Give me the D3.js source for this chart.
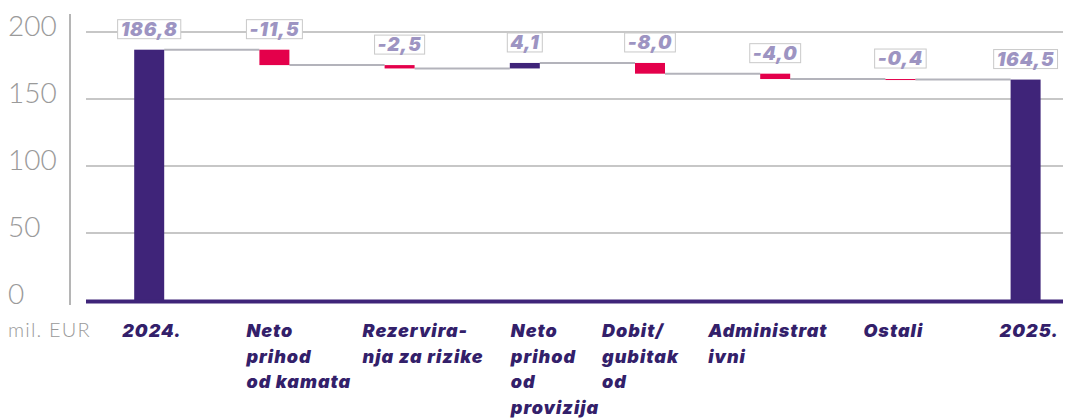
<!DOCTYPE html>
<html>
<head>
<meta charset="utf-8">
<script src="https://cdn.jsdelivr.net/npm/d3@7"></script>
<style>
  html, body { margin: 0; padding: 0; background: #fff; }
  svg { display: block; }
</style>
</head>
<body>
<svg id="chart" width="1065" height="418"></svg>
<script>
const categories = ['2024.', 'Neto prihod od kamata', 'Rezervira-nja za rizike', 'Neto prihod od provizija',
  'Dobit/gubitak od', 'Administrativni', 'Ostali', '2025.']
const labelLines = [
  ['2024.'],
  ['Neto', 'prihod', 'od kamata'],
  ['Rezervira-', 'nja za rizike'],
  ['Neto', 'prihod', 'od', 'provizija'],
  ['Dobit/', 'gubitak', 'od'],
  ['Administrat', 'ivni'],
  ['Ostali'],
  ['2025.']
]
const values = [186.8, -11.5, -2.5, 4.1, -8.0, -4.0, -0.4, 164.5]
const isTotal = [true, false, false, false, false, false, false, true]
const yTicks = [0, 50, 100, 150, 200]
const unitLabel = 'mil. EUR'

// label offsets from bar centre (layout only)
const labelDx = [-27, -28, -37, -14, -48, -67, -37, -26]

const purple = '#3f2479'
const red = '#e4004b'
const grid = '#b5b5b5'
const boldFont = 'Inter, "DejaVu Sans", sans-serif'

const svg = d3.select('#chart')

const x = d3.scaleBand()
  .domain(categories)
  .range([86.6, 1088.2])
  .paddingInner(0.7604)
  .paddingOuter(0.3802)

const y = d3.scaleLinear().domain([0, 200]).range([300, 32])

// waterfall steps
let running = 0
const steps = categories.map((c, i) => {
  let start, end
  if (isTotal[i]) {
    start = 0
    end = values[i]
  } else {
    start = running
    end = running + values[i]
  }
  running = end
  return { cat: c, value: values[i], start, end, total: isTotal[i], i }
})

// grid
svg.append('g')
  .selectAll('line')
  .data(yTicks.filter(d => d > 0))
  .join('line')
  .attr('x1', 86).attr('x2', 1063)
  .attr('y1', d => y(d)).attr('y2', d => y(d))
  .attr('stroke', grid)
  .attr('stroke-width', 1.5)

// y axis line
svg.append('line')
  .attr('x1', 70).attr('x2', 70)
  .attr('y1', 14).attr('y2', 305)
  .attr('stroke', grid)
  .attr('stroke-width', 2)

svg.append('g')
  .attr('font-family', 'Lato, "Open Sans", sans-serif')
  .attr('font-weight', 300)
  .attr('font-size', 28)
  .attr('fill', '#9a9a9a')
  .selectAll('text')
  .data(yTicks)
  .join('text')
  .attr('x', 8)
  .attr('y', d => y(d) + 4)
  .text(d => d)

svg.append('text')
  .attr('x', 8).attr('y', 337)
  .attr('font-family', 'Lato, "Open Sans", sans-serif')
  .attr('font-weight', 300)
  .attr('font-size', 20)
  .attr('letter-spacing', 1.2)
  .attr('fill', '#9a9a9a')
  .text(unitLabel)

// connectors
svg.append('g')
  .selectAll('line')
  .data(steps.slice(0, -1))
  .join('line')
  .attr('x1', d => x(d.cat) + x.bandwidth())
  .attr('x2', d => x(categories[d.i + 1]))
  .attr('y1', d => y(d.end))
  .attr('y2', d => y(d.end))
  .attr('stroke', '#b3b3bb')
  .attr('stroke-width', 2)

// bars
svg.append('g')
  .selectAll('rect')
  .data(steps)
  .join('rect')
  .attr('x', d => x(d.cat))
  .attr('width', x.bandwidth())
  .attr('y', d => y(Math.max(d.start, d.end)))
  .attr('height', d => Math.max(1, Math.abs(y(d.start) - y(d.end))))
  .attr('fill', d => d.value < 0 ? red : purple)

// zero baseline
svg.append('line')
  .attr('x1', 86).attr('x2', 1063)
  .attr('y1', y(0) + 1.5).attr('y2', y(0) + 1.5)
  .attr('stroke', purple)
  .attr('stroke-width', 4)

// value labels
const fmt = v => d3.format('.1f')(v).replace('.', ',').replace('−', '-')
const lab = svg.append('g')
  .selectAll('g')
  .data(steps)
  .join('g')
  .attr('transform', d => `translate(${x(d.cat) + x.bandwidth() / 2}, ${y(Math.max(d.start, d.end)) - 30})`)

const labText = lab.append('text')
  .attr('text-anchor', 'middle')
  .attr('y', 16)
  .attr('font-family', boldFont)
  .attr('font-weight', 900)
  .attr('font-style', 'italic')
  .attr('font-size', 19)
  .attr('letter-spacing', 0.8)
  .attr('fill', '#9d94c2')
  .text(d => fmt(d.value))

lab.insert('rect', 'text')
  .each(function (d, i) {
    const w = labText.nodes()[i].getComputedTextLength()
    d3.select(this)
      .attr('x', -w / 2 - 3)
      .attr('width', w + 6)
  })
  .attr('y', 0)
  .attr('height', 19)
  .attr('fill', '#fff')
  .attr('stroke', '#c9c9c9')
  .attr('stroke-width', 1)

// category labels
svg.append('g')
  .attr('font-family', boldFont)
  .attr('font-weight', 900)
  .attr('font-style', 'italic')
  .attr('font-size', 18)
  .attr('letter-spacing', 1)
  .attr('fill', '#33206a')
  .selectAll('text')
  .data(steps)
  .join('text')
  .attr('x', d => x(d.cat) + x.bandwidth() / 2 + labelDx[d.i])
  .attr('y', 337)
  .selectAll('tspan')
  .data(d => labelLines[d.i].map(t => ({ t, x: x(d.cat) + x.bandwidth() / 2 + labelDx[d.i] })))
  .join('tspan')
  .attr('x', d => d.x)
  .attr('dy', (d, j) => j === 0 ? 0 : 25.7)
  .text(d => d.t)
</script>
</body>
</html>
